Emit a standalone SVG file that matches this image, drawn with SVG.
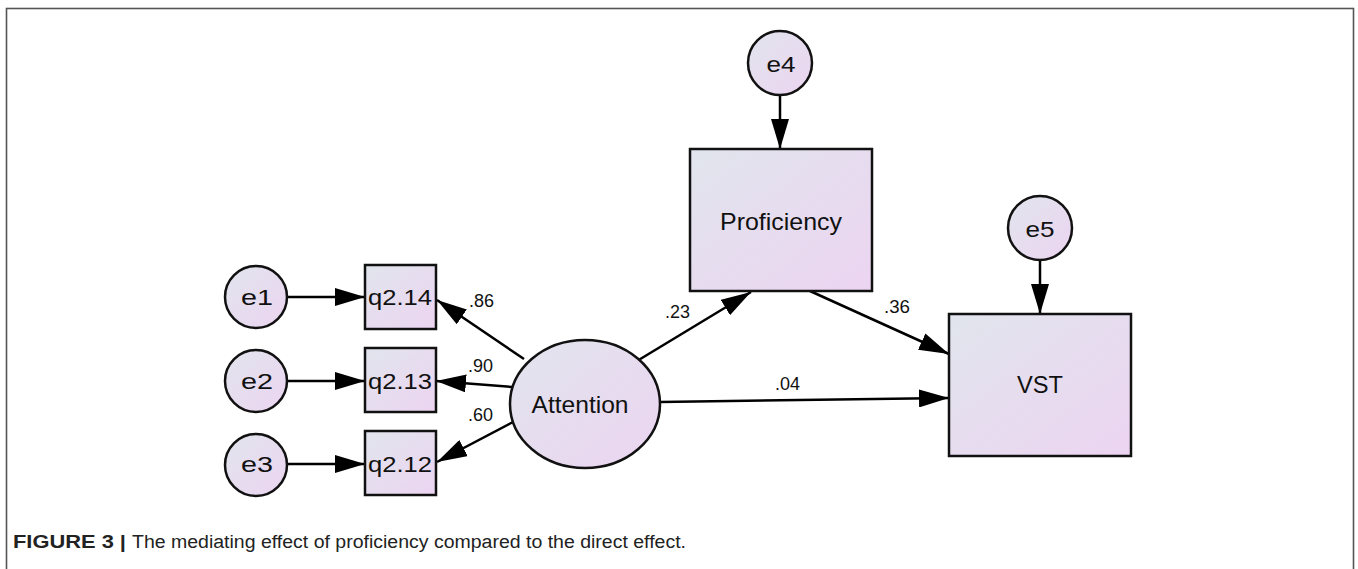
<svg xmlns="http://www.w3.org/2000/svg" width="1358" height="569" viewBox="0 0 1358 569">
  <defs>
    <linearGradient id="fill" x1="0" y1="0" x2="1" y2="1">
      <stop offset="0" stop-color="#e1e5ed"/>
      <stop offset="1" stop-color="#ecd4f1"/>
    </linearGradient>
    <marker id="arrow" markerUnits="userSpaceOnUse" markerWidth="30" markerHeight="18" refX="30" refY="9" orient="auto">
      <path d="M0,0 L30,9 L0,18 z" fill="#000"/>
    </marker>
  </defs>
  <style>
    .node { fill: url(#fill); stroke: #111; stroke-width: 2.5; }
    .lbl { font-family: "Liberation Sans", Arial, sans-serif; fill: #111; text-anchor: middle; }
    .big { font-size: 24px; }
    .mid { font-size: 22px; }
    .coef { font-family: "Liberation Sans", Arial, sans-serif; font-size: 18px; fill: #111; }
    .conn line { stroke: #000; stroke-width: 2.5; marker-end: url(#arrow); }
    .cap { font-family: "Liberation Sans", Arial, sans-serif; font-size: 18px; fill: #222; }
  </style>
  <rect width="1358" height="569" fill="#fff"/>
  <rect x="6.5" y="8.5" width="1347" height="620" fill="none" stroke="#555" stroke-width="1.6"/>

  <g id="connectors" class="conn">
    <line x1="288" y1="297" x2="365" y2="297"/>
    <line x1="288" y1="381" x2="365" y2="381"/>
    <line x1="288" y1="464" x2="365" y2="464"/>
    <line x1="524" y1="359" x2="437" y2="300"/>
    <line x1="512" y1="387" x2="436" y2="381"/>
    <line x1="513" y1="422" x2="437" y2="462"/>
    <line x1="637" y1="361" x2="751" y2="292"/>
    <line x1="810" y1="291" x2="949" y2="354"/>
    <line x1="660" y1="402" x2="949" y2="398"/>
    <line x1="780" y1="95" x2="780" y2="149"/>
    <line x1="1040" y1="261" x2="1040" y2="314"/>
  </g>

  <g id="e1"><circle class="node" cx="256" cy="297" r="31"/><text class="lbl mid" x="257" y="305" textLength="32" lengthAdjust="spacingAndGlyphs">e1</text></g>
  <g id="e2"><circle class="node" cx="256" cy="381" r="31"/><text class="lbl mid" x="257" y="389" textLength="32" lengthAdjust="spacingAndGlyphs">e2</text></g>
  <g id="e3"><circle class="node" cx="256" cy="465" r="31"/><text class="lbl mid" x="257" y="472" textLength="32" lengthAdjust="spacingAndGlyphs">e3</text></g>
  <g id="e4"><circle class="node" cx="780" cy="63" r="32"/><text class="lbl mid" x="781" y="72" textLength="29" lengthAdjust="spacingAndGlyphs">e4</text></g>
  <g id="e5"><circle class="node" cx="1040" cy="228" r="32"/><text class="lbl mid" x="1040" y="237" textLength="29" lengthAdjust="spacingAndGlyphs">e5</text></g>

  <g id="q2.14"><rect class="node" x="365" y="265" width="71" height="64"/><text class="lbl mid" x="400" y="305" textLength="64" lengthAdjust="spacingAndGlyphs">q2.14</text></g>
  <g id="q2.13"><rect class="node" x="365" y="348" width="71" height="64"/><text class="lbl mid" x="400" y="389" textLength="64" lengthAdjust="spacingAndGlyphs">q2.13</text></g>
  <g id="q2.12"><rect class="node" x="365" y="431" width="71" height="64"/><text class="lbl mid" x="400" y="472" textLength="64" lengthAdjust="spacingAndGlyphs">q2.12</text></g>

  <g id="attention"><ellipse class="node" cx="585" cy="404" rx="75" ry="64"/><text class="lbl big" x="580" y="413" textLength="97" lengthAdjust="spacingAndGlyphs">Attention</text></g>
  <g id="proficiency"><rect class="node" x="690" y="149" width="182" height="142"/><text class="lbl big" x="781" y="230" textLength="122" lengthAdjust="spacingAndGlyphs">Proficiency</text></g>
  <g id="vst"><rect class="node" x="949" y="314" width="182" height="142"/><text class="lbl big" x="1040" y="393" textLength="46" lengthAdjust="spacingAndGlyphs">VST</text></g>

  <g id="coefficients">
    <text class="coef" x="469" y="307" textLength="25" lengthAdjust="spacingAndGlyphs">.86</text>
    <text class="coef" x="468" y="372" textLength="25" lengthAdjust="spacingAndGlyphs">.90</text>
    <text class="coef" x="468" y="421" textLength="25" lengthAdjust="spacingAndGlyphs">.60</text>
    <text class="coef" x="665" y="318" textLength="25" lengthAdjust="spacingAndGlyphs">.23</text>
    <text class="coef" x="884" y="313" textLength="26" lengthAdjust="spacingAndGlyphs">.36</text>
    <text class="coef" x="775" y="390" textLength="25" lengthAdjust="spacingAndGlyphs">.04</text>
  </g>

  <g id="caption">
    <text class="cap" x="13" y="548" font-weight="bold" textLength="113" lengthAdjust="spacingAndGlyphs">FIGURE 3 |</text>
    <text class="cap" x="132" y="548" textLength="554" lengthAdjust="spacingAndGlyphs">The mediating effect of proficiency compared to the direct effect.</text>
  </g>
</svg>
